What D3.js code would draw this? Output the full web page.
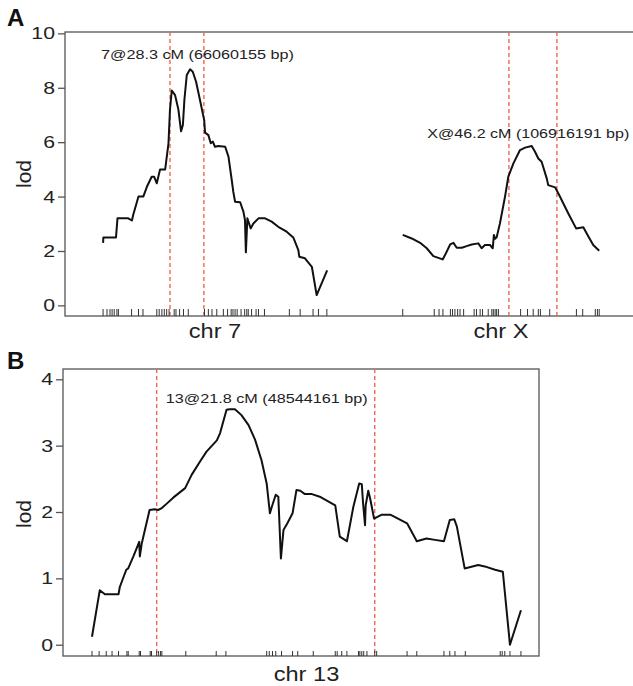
<!DOCTYPE html>
<html lang="en">
<head>
<meta charset="UTF-8">
<title>LOD scans</title>
<script src="https://cdn.jsdelivr.net/npm/d3@7"></script>
<style>body{margin:0;background:#fff}</style>
</head>
<body>
<script>
// panel A, chr 7 (cM, lod)
var chr7Pos = [0.0, 0.1, 3.4, 4.3, 4.8, 8.4, 9.6, 10.1, 11.8, 13.4, 14.6, 16.2, 17.0, 17.9, 19.0, 20.7, 21.8, 22.3, 22.9, 24.0, 25.1, 26.0, 26.6, 27.1, 27.9, 29.0, 29.9, 31.0, 32.3, 33.7, 34.0, 35.1, 35.9, 36.6, 37.3, 38.4, 40.7, 41.8, 42.9, 43.4, 44.0, 45.7, 46.8, 47.3, 47.6, 48.1, 49.2, 50.1, 51.8, 54.0, 56.2, 58.4, 61.2, 63.4, 65.1, 65.4, 67.3, 69.6, 71.2, 74.7];
var chr7Lod = [2.30, 2.50, 2.50, 2.50, 3.20, 3.20, 3.12, 3.35, 4.00, 4.00, 4.36, 4.73, 4.73, 4.49, 5.00, 5.00, 5.96, 7.20, 7.90, 7.73, 7.20, 6.40, 6.63, 7.55, 8.47, 8.68, 8.59, 8.22, 7.55, 6.81, 6.35, 6.26, 5.96, 6.02, 5.83, 5.86, 5.83, 5.47, 4.60, 4.18, 3.81, 3.79, 3.44, 3.14, 1.95, 3.20, 2.83, 3.01, 3.20, 3.20, 3.08, 2.89, 2.71, 2.50, 2.03, 1.79, 1.73, 1.42, 0.38, 1.29];
var chr7Markers = [0.0, 1.3, 2.3, 3.0, 3.7, 4.6, 5.1, 9.5, 11.8, 13.3, 17.9, 18.7, 19.6, 20.4, 21.2, 22.0, 23.7, 24.3, 25.5, 26.8, 28.4, 33.8, 35.1, 36.3, 37.9, 40.1, 41.5, 42.7, 43.3, 44.0, 44.7, 46.0, 47.2, 47.9, 48.4, 49.5, 51.0, 51.8, 53.8, 62.1, 65.7, 70.0, 71.8, 74.6];
var chr7Ci = [22.3, 33.6];

// panel A, chr X
var chrXPos = [3.3, 6.3, 9.1, 11.3, 13.5, 16.6, 17.4, 19.1, 20.2, 21.3, 23.0, 24.6, 26.3, 28.5, 29.6, 30.7, 32.4, 33.3, 33.7, 34.1, 34.6, 35.7, 37.4, 38.5, 40.2, 42.4, 44.1, 46.3, 47.4, 48.5, 49.6, 51.3, 51.8, 54.1, 55.7, 58.5, 61.1, 63.5, 64.6, 66.8, 68.8];
var chrXLod = [2.59, 2.46, 2.30, 2.10, 1.81, 1.69, 1.85, 2.24, 2.30, 2.12, 2.12, 2.18, 2.24, 2.28, 2.10, 2.22, 2.22, 2.10, 2.59, 2.45, 2.50, 3.01, 4.00, 4.73, 5.22, 5.71, 5.80, 5.86, 5.65, 5.40, 5.28, 4.67, 4.42, 4.34, 4.00, 3.38, 2.83, 2.87, 2.65, 2.22, 2.01];
var chrXMarkers = [3.3, 13.8, 15.4, 16.7, 19.2, 19.9, 20.7, 21.6, 22.4, 23.6, 27.1, 27.9, 29.1, 29.9, 31.8, 33.0, 33.5, 34.1, 34.6, 35.2, 42.6, 44.9, 46.8, 48.5, 49.2, 52.3, 61.2, 63.3, 67.5, 68.2, 68.8];
var chrXCi = [38.7, 54.7];

// panel B, chr 13
var chr13Pos = [0.0, 1.2, 2.0, 4.1, 4.3, 5.3, 5.6, 6.4, 7.3, 7.4, 7.7, 8.9, 9.7, 10.2, 10.8, 11.6, 12.6, 14.4, 15.4, 16.7, 17.7, 19.3, 19.8, 20.8, 21.3, 22.1, 23.1, 24.2, 25.2, 26.2, 27.0, 27.5, 27.8, 28.4, 28.8, 29.2, 29.6, 30.2, 31.0, 31.6, 32.2, 32.9, 34.0, 35.2, 37.6, 38.3, 39.4, 40.4, 41.3, 41.7, 41.9, 42.2, 42.3, 42.7, 43.0, 43.6, 44.8, 46.1, 47.3, 48.7, 50.2, 51.7, 53.0, 54.4, 55.3, 56.0, 56.4, 57.6, 59.7, 60.7, 62.3, 63.5, 64.6, 66.3];
var chr13Lod = [0.12, 0.82, 0.76, 0.76, 0.87, 1.13, 1.15, 1.33, 1.55, 1.33, 1.53, 2.03, 2.04, 2.03, 2.06, 2.13, 2.22, 2.36, 2.56, 2.76, 2.91, 3.08, 3.19, 3.54, 3.55, 3.55, 3.46, 3.31, 3.09, 2.78, 2.43, 1.98, 2.08, 2.26, 2.23, 1.30, 1.73, 1.83, 1.98, 2.33, 2.32, 2.27, 2.27, 2.23, 2.10, 1.63, 1.56, 2.08, 2.43, 2.42, 2.13, 1.80, 2.10, 2.32, 2.20, 1.90, 1.96, 1.96, 1.90, 1.83, 1.56, 1.60, 1.58, 1.56, 1.88, 1.89, 1.78, 1.15, 1.20, 1.18, 1.13, 1.10, 0.00, 0.52];
var chr13Markers = [0.0, 1.1, 2.2, 3.1, 4.1, 5.4, 5.6, 7.3, 7.5, 9.0, 9.2, 10.0, 10.3, 10.6, 10.8, 14.5, 19.2, 20.7, 27.0, 27.4, 27.9, 28.4, 29.3, 31.0, 31.8, 34.2, 37.6, 37.9, 38.6, 39.4, 41.2, 41.4, 41.7, 42.0, 42.5, 43.7, 44.0, 48.7, 50.2, 54.4, 55.3, 56.1, 57.7, 63.1, 63.4, 63.8, 64.6, 66.3];
var chr13Ci = [10.0, 43.7];

var yTicksA = [0, 2, 4, 6, 8, 10],
    yTicksB = [0, 1, 2, 3, 4];

var peak7 = "7@28.3 cM (66060155 bp)",
    peakX = "X@46.2 cM (106916191 bp)",
    peak13 = "13@21.8 cM (48544161 bp)";

var red = "#f26552", frame = "#555";
var sx = 1.25; // glyphs in the figure are wider than tall

var svg = d3.select("body").append("svg")
    .attr("width", 633)
    .attr("height", 686)
    .style("font-family", "'Liberation Sans', Arial, sans-serif");

function zip(a, b) { return a.map(function(v, i) { return [v, b[i]]; }); }

function wideText(g, x, y, str, size, anchor, stretch) {
  return g.append("text")
      .attr("transform", "translate(" + x + "," + y + ") scale(" + stretch + ",1)")
      .attr("text-anchor", anchor)
      .style("font-size", size + "px")
      .attr("fill", "#222")
      .text(str);
}

function yAxis(g, y, ticks, left) {
  var ax = g.append("g")
      .attr("transform", "translate(" + left + ",0)")
      .call(d3.axisLeft(y).tickValues(ticks).tickSize(7).tickSizeOuter(0).tickFormat(d3.format("d")));
  ax.select(".domain").remove();
  ax.selectAll("line").attr("stroke", frame).attr("stroke-width", 1.3);
  ax.selectAll("text")
      .attr("x", -10 / sx)
      .attr("transform", "scale(" + sx + ",1)")
      .style("font-size", "17px")
      .attr("fill", "#222");
}

// ---------- panel A ----------
var xOffX = 96.6;   // chr X placed after chr 7 with a gap
var xA = d3.scaleLinear().domain([-12.7, 178]).range([65, 637]),
    yA = d3.scaleLinear().domain([-0.39, 10.05]).range([316, 32]);
var gA = svg.append("g");

gA.append("rect")
    .attr("x", xA(-12.7)).attr("y", yA(10.05))
    .attr("width", xA(178) - xA(-12.7)).attr("height", yA(-0.39) - yA(10.05))
    .attr("fill", "none").attr("stroke", frame).attr("stroke-width", 1.3);

yAxis(gA, yA, yTicksA, xA(-12.7));

var ciA = chr7Ci.concat(chrXCi.map(function(d) { return d + xOffX; }));
gA.selectAll(".ci").data(ciA).enter().append("line")
    .attr("x1", function(d) { return xA(d); }).attr("x2", function(d) { return xA(d); })
    .attr("y1", yA(10.05)).attr("y2", yA(-0.39))
    .attr("stroke", red).attr("stroke-width", 1.4).attr("stroke-dasharray", "4,3");

var rugA = chr7Markers.concat(chrXMarkers.map(function(d) { return d + xOffX; }));
gA.selectAll(".rug").data(rugA).enter().append("line")
    .attr("x1", function(d) { return xA(d); }).attr("x2", function(d) { return xA(d); })
    .attr("y1", yA(-0.39)).attr("y2", yA(-0.39) - 7)
    .attr("stroke", "#333").attr("stroke-width", 1);

var lineA = function(off) {
  return d3.line().x(function(d) { return xA(d[0] + off); }).y(function(d) { return yA(d[1]); });
};
gA.append("path").datum(zip(chr7Pos, chr7Lod))
    .attr("d", lineA(0)).attr("fill", "none").attr("stroke", "#111").attr("stroke-width", 2).attr("stroke-linejoin", "round");
gA.append("path").datum(zip(chrXPos, chrXLod))
    .attr("d", lineA(xOffX)).attr("fill", "none").attr("stroke", "#111").attr("stroke-width", 2).attr("stroke-linejoin", "round");

wideText(gA, xA(-0.7), yA(9.05), peak7, 13.5, "start", 1.2);
wideText(gA, xA(11.5 + xOffX), yA(6.15), peakX, 13.5, "start", 1.19);

wideText(gA, xA(d3.mean(d3.extent(chr7Markers))), 338, "chr 7", 20, "middle", 1.18);
wideText(gA, xA(d3.mean(d3.extent(chrXMarkers)) + xOffX), 338, "chr X", 20, "middle", 1.18);

svg.append("text").attr("transform", "translate(31,174) rotate(-90)")
    .attr("text-anchor", "middle").style("font-size", "21px").attr("fill", "#222").text("lod");
svg.append("text").attr("x", 7).attr("y", 26)
    .style("font-size", "24px").style("font-weight", "bold").attr("fill", "#111").text("A");

// ---------- panel B ----------
var xB = d3.scaleLinear().domain([-4.48, 69.09]).range([63, 539]),
    yB = d3.scaleLinear().domain([-0.17, 4.155]).range([656, 369]);
var gB = svg.append("g");

gB.append("rect")
    .attr("x", xB(-4.48)).attr("y", yB(4.155))
    .attr("width", xB(69.09) - xB(-4.48)).attr("height", yB(-0.17) - yB(4.155))
    .attr("fill", "none").attr("stroke", frame).attr("stroke-width", 1.3);

yAxis(gB, yB, yTicksB, xB(-4.48));

gB.selectAll(".ci").data(chr13Ci).enter().append("line")
    .attr("x1", function(d) { return xB(d); }).attr("x2", function(d) { return xB(d); })
    .attr("y1", yB(4.155)).attr("y2", yB(-0.17))
    .attr("stroke", red).attr("stroke-width", 1.4).attr("stroke-dasharray", "4,3");

gB.selectAll(".rug").data(chr13Markers).enter().append("line")
    .attr("x1", function(d) { return xB(d); }).attr("x2", function(d) { return xB(d); })
    .attr("y1", yB(-0.17)).attr("y2", yB(-0.17) - 5)
    .attr("stroke", "#333").attr("stroke-width", 1);

gB.append("path").datum(zip(chr13Pos, chr13Lod))
    .attr("d", d3.line().x(function(d) { return xB(d[0]); }).y(function(d) { return yB(d[1]); }))
    .attr("fill", "none").attr("stroke", "#111").attr("stroke-width", 2).attr("stroke-linejoin", "round");

wideText(gB, xB(11.4), yB(3.64), peak13, 13.5, "start", 1.2);
wideText(gB, xB(d3.mean(d3.extent(chr13Markers))), 681, "chr 13", 20, "middle", 1.18);

svg.append("text").attr("transform", "translate(31,514) rotate(-90)")
    .attr("text-anchor", "middle").style("font-size", "21px").attr("fill", "#222").text("lod");
svg.append("text").attr("x", 7).attr("y", 369)
    .style("font-size", "24px").style("font-weight", "bold").attr("fill", "#111").text("B");
</script>
</body>
</html>
